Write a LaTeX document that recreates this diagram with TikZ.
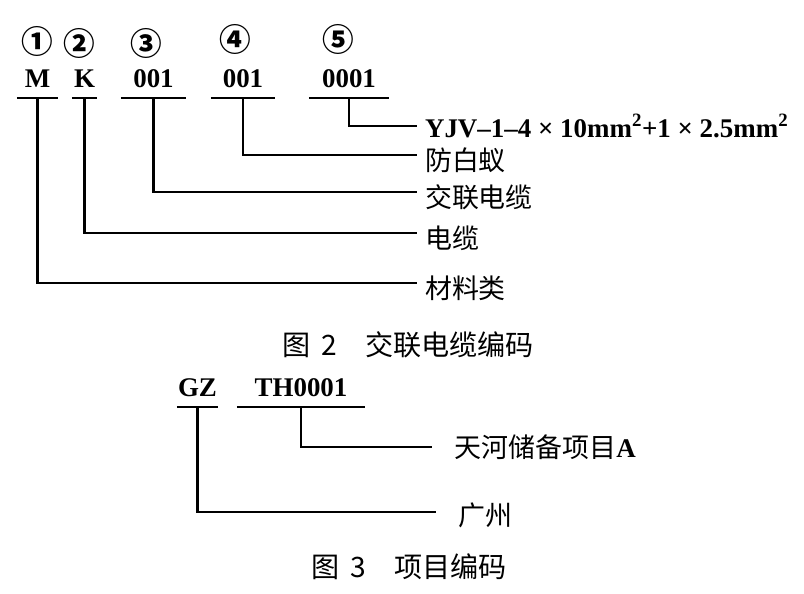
\documentclass[tikz,border=0pt]{standalone}
\usepackage{fontspec}
\setmainfont{Liberation Serif}
\newfontfamily\cjk{Noto Sans CJK SC}
\usetikzlibrary{positioning}

\begin{document}
\begin{tikzpicture}[x=0.03cm, y=-0.03cm, line width=1.8pt,
  code/.style={anchor=south, inner xsep=0pt, inner ysep=0.27cm, text depth=0pt, font=\fontsize{23}{26}\selectfont\bfseries},
  num/.style={inner sep=0pt, font=\cjk\fontsize{27}{30}\selectfont\bfseries},
  lab/.style={anchor=west, inner xsep=0.21cm, inner ysep=0pt, font=\cjk\fontsize{23}{26}\selectfont},
  labb/.style={lab, inner xsep=0.65cm},
  figcap/.style={inner sep=0pt, font=\cjk\fontsize{24}{28}\selectfont}]
    \useasboundingbox (0,0) rectangle (804,594);
    % Circled numbers
    \node[num] (n1) at (37,41) {①};
    \node[num] (n2) at (79,43) {②};
    \node[num] (n3) at (146,43) {③};
    \node[num] (n4) at (235,39) {④};
    \node[num] (n5) at (338,39) {⑤};
    % Codes
    \node[code, minimum width=1.17cm] (M) at (37.5,98) {M};
    \node[code, minimum width=0.69cm] (K) at (84.5,98) {K};
    \node[code, minimum width=1.89cm] (c3) at (153.5,98) {001};
    \node[code, minimum width=1.86cm] (c4) at (243,98) {001};
    \node[code, minimum width=2.34cm] (c5) at (349,98) {0001};
    % Labels
    \node[lab] (l5) at (417,126) {\rmfamily\bfseries YJV–1–4 × 10mm\textsuperscript{2}+1 × 2.5mm\textsuperscript{2}};
    \node[lab] (l4) at (417,160) {防白蚁};
    \node[lab] (l3) at (417,197) {交联电缆};
    \node[lab] (l2) at (417,238) {电缆};
    \node[lab] (l1) at (417,288) {材料类};
    \node[figcap] (cap2) at (408,345) {图\, 2\quad 交联电缆编码};
    % Figure 3
    \node[code, minimum width=1.05cm] (GZ) at (197.5,407) {GZ};
    \node[code, minimum width=3.78cm] (TH) at (301,407) {TH0001};
    \node[labb] (lTH) at (432,447) {天河储备项目\rmfamily\bfseries A};
    \node[labb] (lGZ) at (436,515) {广州};
    \node[figcap] (cap3) at (409,567) {图\, 3\quad 项目编码};
    % Underlines
    \foreach \c in {M,K,c3,c4,c5,GZ,TH}
        \draw (\c.south west) -- (\c.south east);
    % Connectors
    \draw (c5.south) |- (l5.west);
    \draw (c4.south) |- ([yshift=1.5mm]l4.west);
    \draw (c3.south) |- ([yshift=1.5mm]l3.west);
    \draw (K.south) |- ([yshift=1.5mm]l2.west);
    \draw (M.south) |- ([yshift=1.5mm]l1.west);
    \draw (TH.south) |- (lTH.west);
    \draw (GZ.south) |- ([yshift=0.9mm]lGZ.west);
\end{tikzpicture}
\end{document}
